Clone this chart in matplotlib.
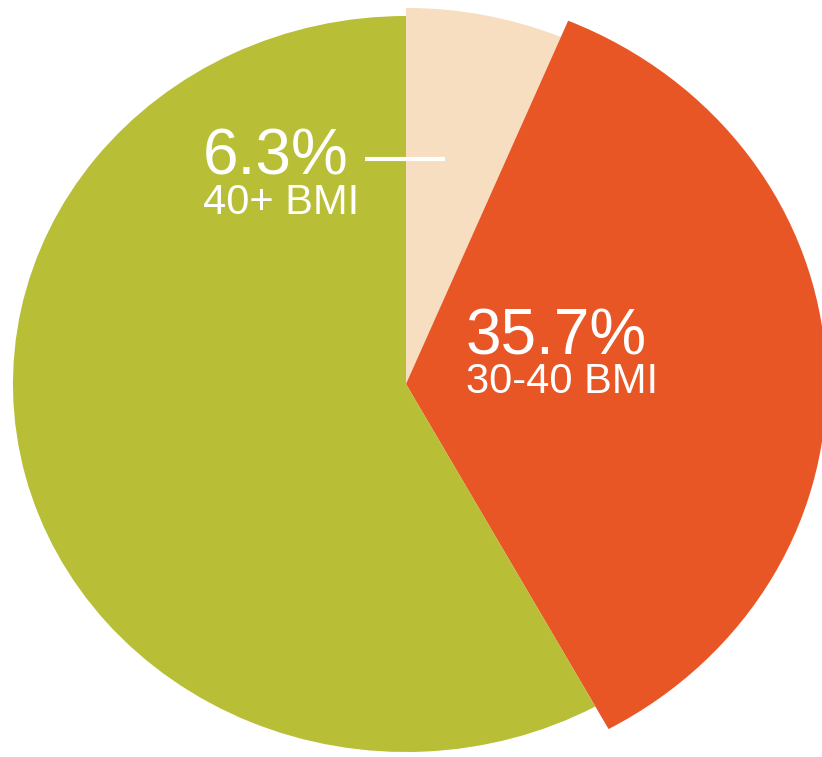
import matplotlib.pyplot as plt

# BMI share data (clockwise from 12 o'clock)
categories = ['40+ BMI', '30-40 BMI', 'under 30 BMI']
shares = [6.3, 35.7, 58.0]
colors = ['#F7DEC0', '#E85625', '#B8BE35']
# each slice is drawn with its own radius in the original
radii = [1.022, 1.07, 1.0]

plt.rcParams['font.family'] = ['Liberation Sans', 'DejaVu Sans']

fig = plt.figure(figsize=(8.22, 7.57), dpi=100)
ax = fig.add_axes([0, 0, 1, 1])

wedges, _ = ax.pie(shares, colors=colors, startangle=90, counterclock=False,
                   wedgeprops=dict(linewidth=0))
for w, r in zip(wedges, radii):
    w.set_radius(r)

# the picture is slightly wider than tall
ax.set_aspect('auto')
ax.set_xlim(-1.033, 1.0585)
ax.set_ylim(-1.0136, 1.0435)
ax.axis('off')

# labels
ax.text(-0.516, 0.568, f'{shares[0]}%', color='white', fontsize=46,
        ha='left', va='baseline')
ax.text(-0.516, 0.462, categories[0], color='white', fontsize=30,
        ha='left', va='baseline')
ax.plot([-0.104, 0.099], [0.611, 0.611], color='white', lw=3, solid_capstyle='butt')

ax.text(0.152, 0.079, f'{shares[1]}%', color='white', fontsize=46,
        ha='left', va='baseline')
ax.text(0.152, -0.0245, categories[1], color='white', fontsize=30,
        ha='left', va='baseline')

fig.savefig('out.png', dpi=100)
